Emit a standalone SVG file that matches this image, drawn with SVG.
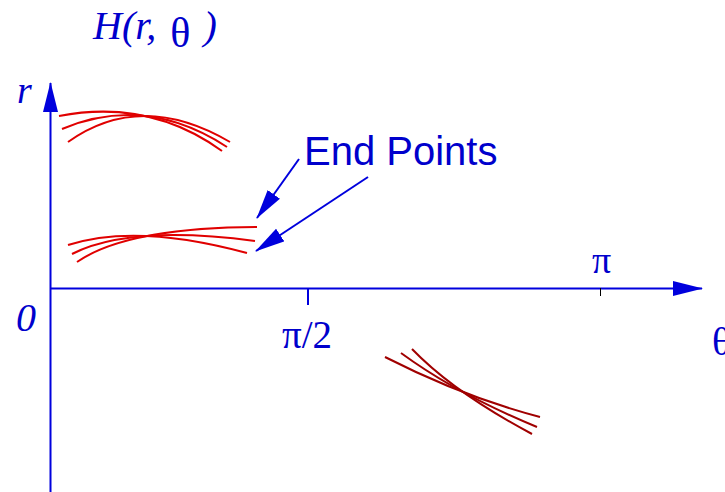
<svg xmlns="http://www.w3.org/2000/svg" width="725" height="492" viewBox="0 0 725 492">
<defs>
<marker id="ah" markerUnits="userSpaceOnUse" markerWidth="32" markerHeight="18" refX="29" refY="8" orient="auto">
<path d="M0,0.5 L30,8 L0,15.5 z" fill="#0000dd"/>
</marker>
<style>
.ax{stroke:#0000dd;stroke-width:2;fill:none}
.rc{stroke:#e00000;stroke-width:2;fill:none}
.dc{stroke:#a00000;stroke-width:2;fill:none}
.m{font-family:"Liberation Serif",serif;font-style:italic;fill:#0000cc}
.s{font-family:"Liberation Serif",serif;font-style:normal;fill:#0000cc}
.t{font-family:"Liberation Sans",Arial,sans-serif;fill:#0000cc}
</style>
</defs>
<rect width="725" height="492" fill="#fff"/>
<g id="axes">
<line class="ax" x1="50.5" y1="492" x2="50.5" y2="83" marker-end="url(#ah)"/>
<line class="ax" x1="50" y1="288.5" x2="702" y2="288.5" marker-end="url(#ah)"/>
<line class="ax" x1="308" y1="288" x2="308" y2="305"/>
<line x1="600.5" y1="288" x2="600.5" y2="296" stroke="#000" stroke-width="1"/>
</g>
<g id="upper-curves">
<path class="rc" d="M59,116 Q149.5,98.5 222,151"/>
<path class="rc" d="M62,129 Q145.5,94 227,147"/>
<path class="rc" d="M68,142 Q141,90 230,142"/>
</g>
<g id="lower-curves">
<path class="rc" d="M68,245 Q136.5,223 247,253"/>
<path class="rc" d="M72,254 Q130.5,224.5 255,241"/>
<path class="rc" d="M77,262 Q127,227.5 257,227"/>
</g>
<g id="dark-curves">
<path class="dc" d="M385,357 Q463.5,397 540,417"/>
<path class="dc" d="M401,353 Q457,394 537,427"/>
<path class="dc" d="M412,349 Q454,392.5 532,434"/>
</g>
<g id="labels">
<text class="m" x="93" y="39" font-size="40">H(r, <tspan class="s" font-size="42" dx="4" dy="8">θ</tspan><tspan dx="3" dy="-8"> )</tspan></text>
<text class="m" x="17" y="103" font-size="38">r</text>
<text class="m" x="16" y="331" font-size="40">0</text>
<text class="s" x="282" y="348" font-size="39">π/2</text>
<text class="s" x="592" y="273" font-size="38">π</text>
<text class="s" x="712" y="355" font-size="40">θ</text>
</g>
<g id="end-points">
<text class="t" x="304" y="165" font-size="40">End Points</text>
</g>
<g id="connectors">
<line class="ax" x1="299" y1="159" x2="257" y2="218" marker-end="url(#ah)"/>
<line class="ax" x1="368" y1="177" x2="256" y2="251" marker-end="url(#ah)"/>
</g>
</svg>
